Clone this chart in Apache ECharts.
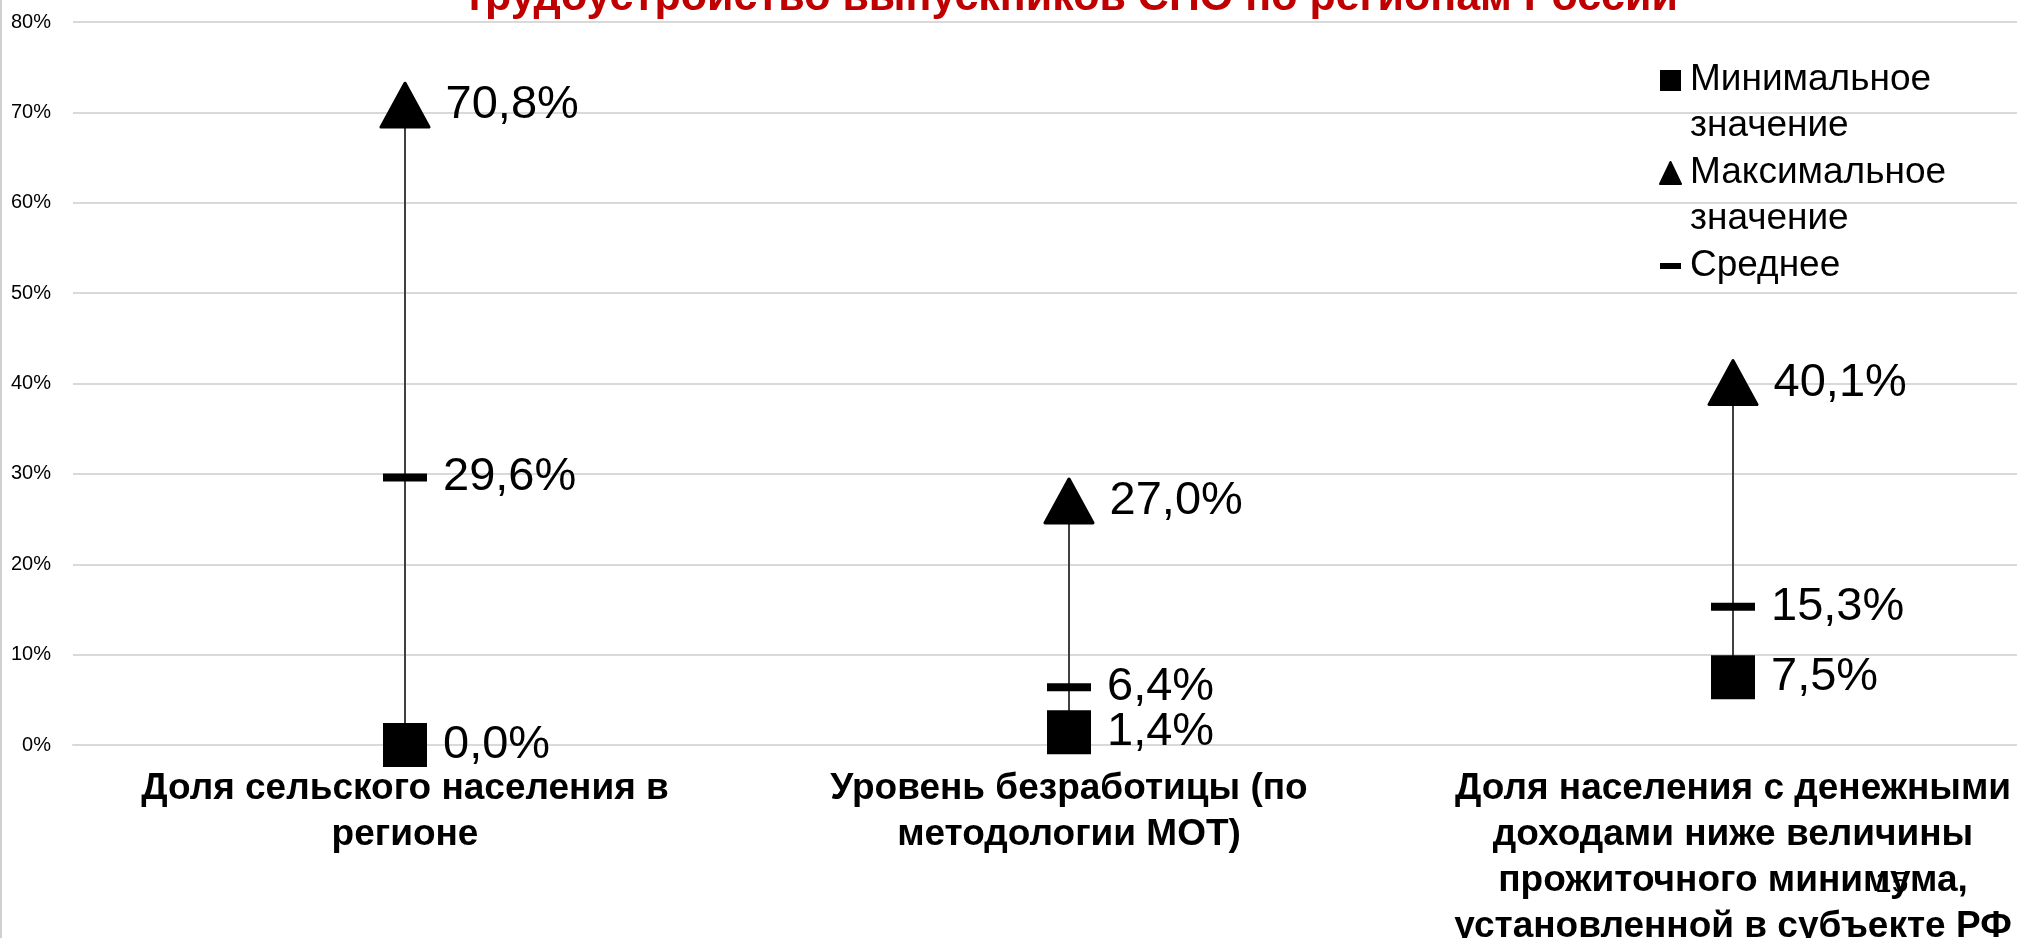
<!DOCTYPE html>
<html>
<head>
<meta charset="utf-8">
<script src="https://cdn.jsdelivr.net/npm/echarts@6/dist/echarts.min.js"></script>
<style>
  html, body { margin: 0; padding: 0; background: #fff; }
  #chart { width: 2017px; height: 938px; }
</style>
</head>
<body>
<div id="chart"></div>
<script>
const categories = [
    'Доля сельского населения в\nрегионе',
    'Уровень безработицы (по\nметодологии МОТ)',
    'Доля населения с денежными\nдоходами ниже величины\nпрожиточного минимума,\nустановленной в субъекте РФ'
];
const minValues = [0.0, 1.4, 7.5];
const maxValues = [70.8, 27.0, 40.1];
const meanValues = [29.6, 6.4, 15.3];
const yTicks = { min: 0, max: 80, interval: 10 };

const seriesNames = ['Минимальное\nзначение', 'Максимальное\nзначение', 'Среднее'];

const pct = v => v.toFixed(1).replace('.', ',') + '%';

// icons keep a tall box (moveTo points only) so the glyph sits next to the first text line
const pad = 'M0,0M0,92';
const iconSquare = 'path://' + pad + 'M0,13H21V34H0Z';
const iconTriangle = 'path://' + pad + 'M10.5,12L21,34H0Z';
const iconDash = 'path://' + pad + 'M0,20H21V26H0Z';

const labelStyle = {
    show: true,
    position: 'right',
    distance: 15,
    fontSize: 47,
    color: '#000',
    formatter: p => pct(p.value)
};

const chart = echarts.init(document.getElementById('chart'));

const option = {
    animation: false,
    textStyle: { fontFamily: '"Liberation Sans", Arial, sans-serif' },
    title: {
        text: 'трудоустройство выпускников СПО по регионам России',
        left: 459,
        top: -28,
        textStyle: {
            color: '#c00000',
            fontSize: 43,
            fontWeight: 'bold',
            fontFamily: '"Liberation Sans", Arial, sans-serif'
        }
    },
    legend: {
        orient: 'vertical',
        left: 1654,
        top: 52,
        itemWidth: 21,
        itemHeight: 92,
        itemGap: 0,
        symbolKeepAspect: false,
        textStyle: { fontSize: 37, lineHeight: 46, color: '#000', padding: [0, 0, 0, 4] },
        formatter: name => name === 'Среднее' ? name + '\n ' : name,
        data: [
            { name: seriesNames[0], icon: iconSquare },
            { name: seriesNames[1], icon: iconTriangle },
            { name: seriesNames[2], icon: iconDash }
        ]
    },
    grid: { left: 73, right: -48, top: 22, bottom: 193, outerBoundsMode: 'none', containLabel: false },
    xAxis: {
        type: 'category',
        data: categories,
        axisTick: { show: false },
        axisLine: { lineStyle: { color: '#d9d9d9', width: 2 } },
        axisLabel: {
            interval: 0,
            margin: 21,
            fontSize: 37,
            lineHeight: 46,
            fontWeight: 'bold',
            color: '#000'
        }
    },
    yAxis: {
        type: 'value',
        min: yTicks.min,
        max: yTicks.max,
        interval: yTicks.interval,
        axisLine: { show: false },
        axisTick: { show: false },
        axisLabel: { formatter: '{value}%', fontSize: 20, color: '#000', margin: 22 },
        splitLine: { lineStyle: { color: '#d9d9d9', width: 2 } }
    },
    graphic: [
        { type: 'rect', left: 0, top: 0, shape: { width: 2, height: 938 }, style: { fill: '#d0d0d0' } },
        { type: 'text', left: 1875, top: 869, style: { text: '15', fontSize: 30, fill: '#000', fontFamily: '"Liberation Sans", Arial' } }
    ],
    series: [
        {
            type: 'custom',
            name: 'hilo',
            z: 1,
            data: categories.map((c, i) => [i, minValues[i], maxValues[i]]),
            encode: { x: 0, y: [1, 2] },
            renderItem: (params, api) => {
                const lo = api.coord([api.value(0), api.value(1)]);
                const hi = api.coord([api.value(0), api.value(2)]);
                return {
                    type: 'line',
                    shape: { x1: lo[0], y1: lo[1], x2: hi[0], y2: hi[1] },
                    style: { stroke: '#404040', lineWidth: 2 }
                };
            }
        },
        {
            type: 'scatter',
            name: seriesNames[0],
            z: 3,
            data: minValues,
            symbol: 'rect',
            symbolSize: 44,
            itemStyle: { color: '#000', opacity: 1 },
            label: Object.assign({}, labelStyle, { distance: 16 }),
            emphasis: { disabled: true }
        },
        {
            type: 'scatter',
            name: seriesNames[1],
            z: 3,
            data: maxValues,
            symbol: 'triangle',
            symbolSize: [48, 44],
            itemStyle: { color: '#000', opacity: 1, borderColor: '#000', borderWidth: 3, borderJoin: 'round' },
            label: labelStyle,
            emphasis: { disabled: true }
        },
        {
            type: 'scatter',
            name: seriesNames[2],
            z: 3,
            data: meanValues,
            symbol: 'rect',
            symbolSize: [44, 8],
            itemStyle: { color: '#000', opacity: 1 },
            label: Object.assign({}, labelStyle, { distance: 16 }),
            emphasis: { disabled: true }
        }
    ]
};

chart.setOption(option);
</script>
</body>
</html>
